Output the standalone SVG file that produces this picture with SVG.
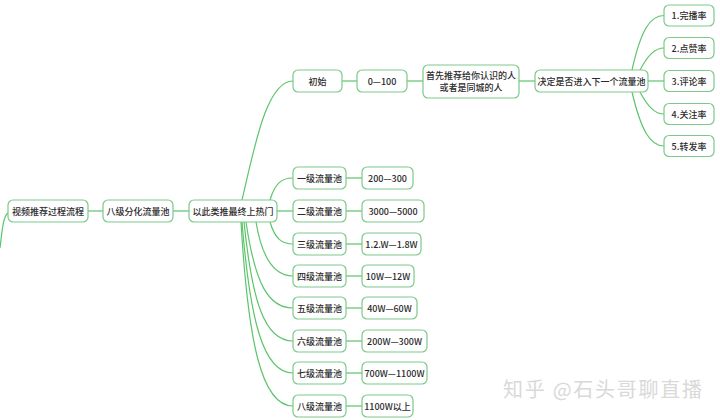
<svg xmlns="http://www.w3.org/2000/svg" width="720" height="420" viewBox="0 0 720 420">
<style>
  .box{fill:#ffffff;stroke:#7cc98a;stroke-width:1.2}
  .t{font-family:"Noto Sans CJK SC","Liberation Sans",sans-serif;font-size:9px;font-weight:500;fill:#2b2b2b;text-anchor:middle;dominant-baseline:central}
  .c{fill:none;stroke:#5cc46c;stroke-width:1.2}
  .wm{font-family:"Noto Sans CJK SC","Liberation Sans",sans-serif;font-size:20px;fill:#d9d9d9}
</style>
<rect width="720" height="420" fill="#ffffff"/>
<g id="connectors">
  <path class="c" d="M8,213 C3,216 2,232 0,248"/>
  <path class="c" d="M88,211 H103"/>
  <path class="c" d="M173,211 H189"/>
  <path class="c" d="M242,200 C254,150 266,81 293,81"/>
  <path class="c" d="M342,81 H357"/>
  <path class="c" d="M407,81 H423"/>
  <path class="c" d="M519,81 H535"/>
  <path class="c" d="M632,70 C641,30 650,15.5 664,15.5"/>
  <path class="c" d="M640,70 C648,55 655,48 664,48"/>
  <path class="c" d="M648,81 H664"/>
  <path class="c" d="M640,92 C648,107 655,114 664,114"/>
  <path class="c" d="M632,92 C641,130 650,146 664,146"/>
  <path class="c" d="M270,200 C275,183 282,178 293,178"/>
  <path class="c" d="M277,211 H293"/>
  <path class="c" d="M270,222 C275,239 282,244 293,244"/>
  <path class="c" d="M256,222 C262,258 274,276 293,276"/>
  <path class="c" d="M246,222 C255,283 268,308 293,308"/>
  <path class="c" d="M244,222 C252,300 264,341 293,341"/>
  <path class="c" d="M242,222 C250,320 263,373 293,373"/>
  <path class="c" d="M241,222 C248,340 261,406 293,406"/>
  <path class="c" d="M346,178 H362"/>
  <path class="c" d="M346,211 H362"/>
  <path class="c" d="M346,244 H362"/>
  <path class="c" d="M346,276 H362"/>
  <path class="c" d="M346,308 H362"/>
  <path class="c" d="M346,341 H362"/>
  <path class="c" d="M346,373 H362"/>
  <path class="c" d="M346,406 H362"/>
</g>
<g id="n-root"><rect class="box" x="8" y="200" width="80" height="22" rx="5"/><text class="t" x="48" y="211">视频推荐过程流程</text></g>
<g id="n-split"><rect class="box" x="103" y="200" width="70" height="22" rx="5"/><text class="t" x="138" y="211">八级分化流量池</text></g>
<g id="n-hot"><rect class="box" x="189" y="200" width="88" height="22" rx="5"/><text class="t" x="233" y="211">以此类推最终上热门</text></g>
<g id="n-init"><rect class="box" x="293" y="70" width="49" height="22" rx="5"/><text class="t" x="317.5" y="81">初始</text></g>
<g id="n-0-100"><rect class="box" x="357" y="70" width="50" height="22" rx="5"/><text class="t" x="382" y="81">0—100</text></g>
<g id="n-first"><rect class="box" x="423" y="65" width="96" height="33" rx="5"/><text class="t" x="471" y="75.5">首先推荐给你认识的人</text><text class="t" x="471" y="87.5">或者是同城的人</text></g>
<g id="n-decide"><rect class="box" x="535" y="70" width="113" height="22" rx="5"/><text class="t" x="591.5" y="81">决定是否进入下一个流量池</text></g>
<g id="n-m1"><rect class="box" x="664" y="5" width="50" height="21" rx="5"/><text class="t" x="689" y="15.5">1.完播率</text></g>
<g id="n-m2"><rect class="box" x="664" y="37.5" width="50" height="21" rx="5"/><text class="t" x="689" y="48">2.点赞率</text></g>
<g id="n-m3"><rect class="box" x="664" y="70.5" width="50" height="21" rx="5"/><text class="t" x="689" y="81">3.评论率</text></g>
<g id="n-m4"><rect class="box" x="664" y="103.5" width="50" height="21" rx="5"/><text class="t" x="689" y="114">4.关注率</text></g>
<g id="n-m5"><rect class="box" x="664" y="135.5" width="50" height="21" rx="5"/><text class="t" x="689" y="146">5.转发率</text></g>
<g id="n-l1"><rect class="box" x="293" y="167" width="53" height="22" rx="5"/><text class="t" x="319.5" y="178">一级流量池</text></g>
<g id="n-v1"><rect class="box" x="362" y="167" width="51" height="22" rx="5"/><text class="t" x="387.5" y="178">200—300</text></g>
<g id="n-l2"><rect class="box" x="293" y="200" width="53" height="22" rx="5"/><text class="t" x="319.5" y="211">二级流量池</text></g>
<g id="n-v2"><rect class="box" x="362" y="200" width="62" height="22" rx="5"/><text class="t" x="393" y="211">3000—5000</text></g>
<g id="n-l3"><rect class="box" x="293" y="233" width="53" height="22" rx="5"/><text class="t" x="319.5" y="244">三级流量池</text></g>
<g id="n-v3"><rect class="box" x="362" y="233" width="59" height="22" rx="5"/><text class="t" x="391.5" y="244">1.2.W—1.8W</text></g>
<g id="n-l4"><rect class="box" x="293" y="265" width="53" height="22" rx="5"/><text class="t" x="319.5" y="276">四级流量池</text></g>
<g id="n-v4"><rect class="box" x="362" y="265" width="52" height="22" rx="5"/><text class="t" x="388" y="276">10W—12W</text></g>
<g id="n-l5"><rect class="box" x="293" y="297" width="53" height="22" rx="5"/><text class="t" x="319.5" y="308">五级流量池</text></g>
<g id="n-v5"><rect class="box" x="362" y="297" width="55" height="22" rx="5"/><text class="t" x="389.5" y="308">40W—60W</text></g>
<g id="n-l6"><rect class="box" x="293" y="330" width="53" height="22" rx="5"/><text class="t" x="319.5" y="341">六级流量池</text></g>
<g id="n-v6"><rect class="box" x="362" y="330" width="65" height="22" rx="5"/><text class="t" x="394.5" y="341">200W—300W</text></g>
<g id="n-l7"><rect class="box" x="293" y="362" width="53" height="22" rx="5"/><text class="t" x="319.5" y="373">七级流量池</text></g>
<g id="n-v7"><rect class="box" x="362" y="362" width="65" height="22" rx="5"/><text class="t" x="394.5" y="373">700W—1100W</text></g>
<g id="n-l8"><rect class="box" x="293" y="395" width="53" height="22" rx="5"/><text class="t" x="319.5" y="406">八级流量池</text></g>
<g id="n-v8"><rect class="box" x="362" y="395" width="51" height="22" rx="5"/><text class="t" x="387.5" y="406">1100W以上</text></g>
<text class="wm" x="503" y="397" textLength="199" lengthAdjust="spacing">知乎 @石头哥聊直播</text>
</svg>
